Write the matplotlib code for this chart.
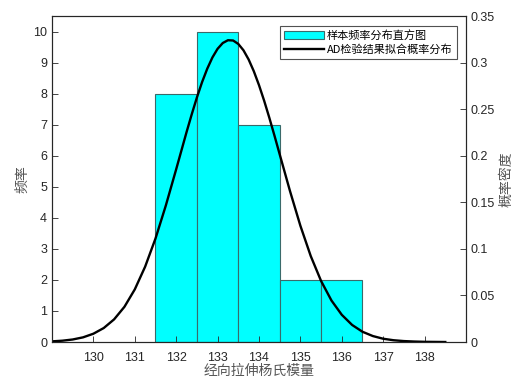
import numpy as np
import matplotlib.pyplot as plt

plt.rcParams['font.family'] = ['Liberation Sans', 'Noto Sans CJK SC', 'DejaVu Sans']

# histogram (bin centres, counts)
bin_centers = [132, 133, 134, 135, 136]
counts = [8, 10, 7, 2, 2]

# fitted density curve
pdf_x = [129.0, 129.25, 129.5, 129.75, 130.0, 130.25, 130.5, 130.75, 131.0, 131.25,
         131.5, 131.75, 132.0, 132.25, 132.375, 132.5, 132.625, 132.75, 132.875, 133.0,
         133.125, 133.25, 133.375, 133.5, 133.625, 133.75, 133.875, 134.0, 134.125, 134.25,
         134.375, 134.5, 134.75, 135.0, 135.25, 135.5, 135.75, 136.0, 136.25,
         136.5, 136.75, 137.0, 137.25, 137.5, 137.75, 138.0, 138.25, 138.5]
pdf_y = [0.0007, 0.0014, 0.0027, 0.0050, 0.0089, 0.0150, 0.0243, 0.0378, 0.0565, 0.0809,
         0.1111, 0.1466, 0.1855, 0.2253, 0.2444, 0.2625, 0.2790, 0.2934, 0.3055, 0.3148,
         0.3210, 0.3240, 0.3237, 0.3200, 0.3132, 0.3033, 0.2907, 0.2758, 0.2590, 0.2407,
         0.2214, 0.2015, 0.1619, 0.1248, 0.0923, 0.0655, 0.0446, 0.0292, 0.0183,
         0.0110, 0.0064, 0.0035, 0.0019, 0.0010, 0.0005, 0.0002, 0.0001, 0.0000]

x_ticks = [130, 131, 132, 133, 134, 135, 136, 137, 138]
left_ticks = list(range(0, 11))
right_ticks = [0, 0.05, 0.1, 0.15, 0.2, 0.25, 0.3, 0.35]
right_labels = ['0', '0.05', '0.1', '0.15', '0.2', '0.25', '0.3', '0.35']

axcol = '#262626'
cjk = ['Noto Sans CJK SC', 'DejaVu Sans']

fig = plt.figure(figsize=(5.21, 3.82), dpi=100)
ax = fig.add_axes([0.0998, 0.1047, 0.7946, 0.8534])
bars = ax.bar(bin_centers, counts, width=1.0, color='#00ffff', edgecolor='#3a6a6a',
              linewidth=0.8)
ax.set_xlim(129, 139)
ax.set_ylim(0, 10.5)
ax.set_xticks(x_ticks)
ax.set_yticks(left_ticks)
ax.set_ylabel('频率', family=cjk, fontsize=10, color='#555555')
ax.yaxis.set_label_coords(-0.056, 0.5)
ax.set_xlabel('经向拉伸杨氏模量', family=cjk, fontsize=10, color='#555555')
ax.xaxis.set_label_coords(0.5, -0.066)

ax2 = ax.twinx()
line, = ax2.plot(pdf_x, pdf_y, color='black', lw=1.7)
ax2.set_ylim(0, 0.35)
ax2.set_yticks(right_ticks)
ax2.set_yticklabels(right_labels)
ax2.set_ylabel('概率密度', family=cjk, fontsize=10, color='#555555')
ax2.yaxis.set_label_coords(1.080, 0.5)

for a in (ax, ax2):
    for s in a.spines.values():
        s.set_color(axcol)
        s.set_linewidth(0.8)
    a.tick_params(direction='in', length=4, width=0.6, colors=axcol, labelsize=9)
ax.tick_params(axis='x', pad=7)

leg = ax2.legend([bars, line], ['样本频率分布直方图', 'AD检验结果拟合概率分布'],
                 loc='upper right', bbox_to_anchor=(0.9775, 0.969), prop={'family': cjk, 'size': 8},
                 frameon=True, fancybox=False, edgecolor=axcol, borderpad=0.35,
                 handlelength=3.6, handletextpad=0.3, labelspacing=0.3, borderaxespad=0)
leg.get_frame().set_linewidth(0.8)

fig.savefig('out.png', dpi=100)
